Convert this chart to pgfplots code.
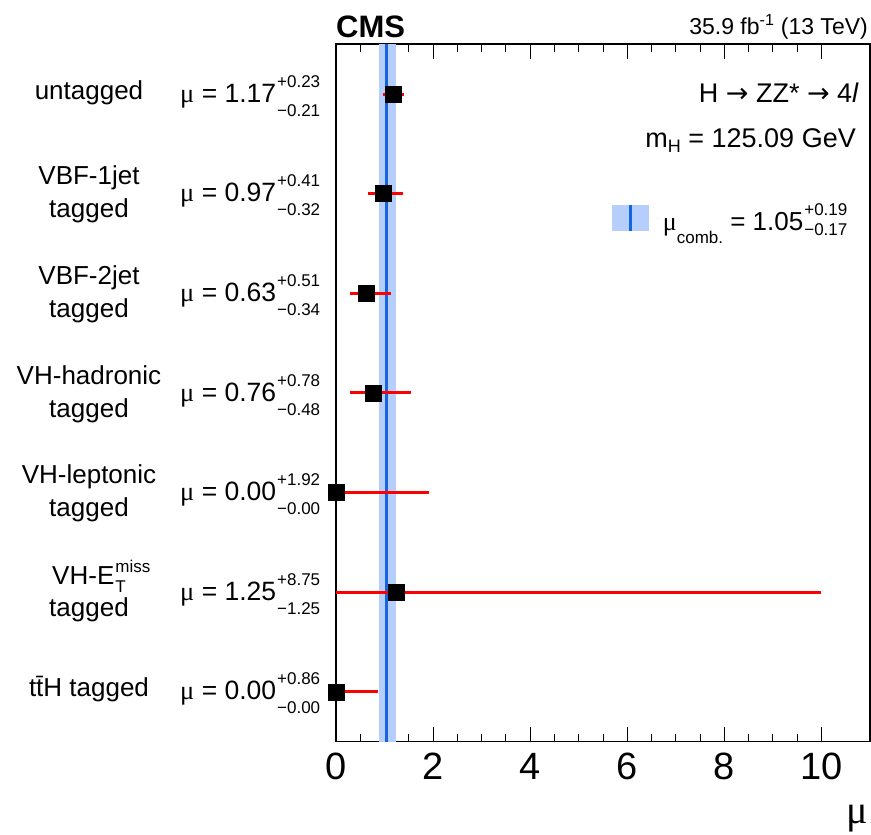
\documentclass[border=0pt]{standalone}
\usepackage{fontspec}
\setmainfont{Liberation Sans}
\newfontfamily\symfont{Liberation Serif}
\newfontfamily\arrowfont{DejaVu Sans}
\usepackage{pgfplots}
\pgfplotsset{compat=1.18}
\usepackage{pgfplotstable}

\definecolor{bandblue}{RGB}{181,206,252}
\definecolor{lineblue}{RGB}{22,100,222}

\newcommand\fs[1]{\fontsize{#1bp}{#1bp}\selectfont}
% stacked up/down uncertainties
\newcommand\ud[4]{\kern1bp\makebox[0pt][l]{\raisebox{#3bp}{\fs{17}#1}}\raisebox{-#4bp}{\fs{17}#2}}
\newcommand\muv[3]{{\symfont μ} = #1\ud{#2}{#3}{15}{14}}
\newcommand\arr{{\arrowfont →}}

% category position, signal strength, upper and lower uncertainty
\pgfplotstableread{
pos mu ep em
6.5 1.17 0.23 0.21
5.5 0.97 0.41 0.32
4.5 0.63 0.51 0.34
3.5 0.76 0.78 0.48
2.5 0.00 1.92 0.00
1.5 1.25 8.75 1.25
0.5 0.00 0.86 0.00
}\cats

\begin{document}
\begin{tikzpicture}
\useasboundingbox (0bp,0bp) rectangle (871bp,-835bp);
\begin{axis}[
  at={(336bp,-741.7bp)}, anchor=south west,
  scale only axis, width=534bp, height=697.5bp,
  xmin=0, xmax=11, ymin=0, ymax=7,
  clip=false,
  axis line style={line width=1.5bp},
  ytick=\empty,
  xtick={0,2,...,10},
  minor x tick num=3,
  tick align=inside,
  major tick length=15bp, minor tick length=8bp,
  every tick/.style={line width=1bp, black},
  xticklabel style={font=\fs{38}, inner sep=0pt, yshift=-11bp},
  /pgf/number format/assume math mode=true,
  legend style={at={(0.5163,0.7508)}, anchor=west, draw=none, fill=none,
    inner sep=0pt, font=\fs{26}},
  legend cell align=left,
]
\addplot[draw=none, fill=bandblue,
  legend image code/.code={
    \path (0bp,0bp) -- (49bp,0bp);
    \fill[bandblue] (0bp,-13.3bp) rectangle (36.6bp,13.3bp);
    \draw[lineblue, line width=3bp] (18.3bp,-13.3bp) -- (18.3bp,13.3bp);
  }]
  coordinates {(0.88,0) (1.24,0) (1.24,7) (0.88,7)} -- cycle;
\addlegendentry{{\symfont μ}\raisebox{-13bp}{\fs{17}comb.} = 1.05\ud{+0.19}{−0.17}{15}{5}}
\addplot[lineblue, line width=3bp, forget plot] coordinates {(1.05,0) (1.05,7)};
\addplot[draw=none, mark=none, forget plot,
  error bars/.cd, x dir=both, x explicit, error mark=none,
  error bar style={draw=red, line width=3bp}]
  table[x=mu, y=pos, x error plus=ep, x error minus=em] {\cats};
\addplot[only marks, mark=square*, mark size=8bp, black, forget plot]
  table[x=mu, y=pos] {\cats};
\end{axis}

% header
\node[font=\fs{31}\bfseries, anchor=base west, inner sep=0pt] at (336bp,-37bp) {CMS};
\node[font=\fs{23}, anchor=base east, inner sep=0pt] at (868bp,-34bp) {35.9 fb\textsuperscript{-1} (13 TeV)};
\node[font=\fs{27}, anchor=base east, inner sep=0pt] at (859bp,-102bp) {H \arr{} ZZ* \arr{} 4\textit{l}};
\node[font=\fs{27}, anchor=base east, inner sep=0pt] at (856bp,-147bp) {m\raisebox{-5bp}{\fs{18}H} = 125.09 GeV};

% x axis title
\node[font=\fs{40}\symfont, anchor=base east, inner sep=0pt] at (868bp,-823bp) {μ};

% category names
\begin{scope}[every node/.style={font=\fs{26}, anchor=base, inner sep=0pt}]
\node at (89bp,-99bp) {untagged};
\node at (89bp,-184.7bp) {VBF-1jet};
\node at (89bp,-217.7bp) {tagged};
\node at (89bp,-284.3bp) {VBF-2jet};
\node at (89bp,-317.3bp) {tagged};
\node at (89bp,-384bp) {VH-hadronic};
\node at (89bp,-417bp) {tagged};
\node at (89bp,-483.6bp) {VH-leptonic};
\node at (89bp,-516.6bp) {tagged};
\node at (89bp,-584.2bp) {VH-E\ud{miss}{T}{12}{8}};
\node at (89bp,-616.2bp) {tagged};
\node at (89bp,-696.9bp) {t\={t}H tagged};
\end{scope}

% fitted values
\begin{scope}[every node/.style={font=\fs{26.5}, anchor=base west, inner sep=0pt}]
\node at (180bp,-102bp) {\muv{1.17}{+0.23}{−0.21}};
\node at (180bp,-201.7bp) {\muv{0.97}{+0.41}{−0.32}};
\node at (180bp,-301.3bp) {\muv{0.63}{+0.51}{−0.34}};
\node at (180bp,-401bp) {\muv{0.76}{+0.78}{−0.48}};
\node at (180bp,-500.6bp) {\muv{0.00}{+1.92}{−0.00}};
\node at (180bp,-600.2bp) {\muv{1.25}{+8.75}{−1.25}};
\node at (180bp,-699.9bp) {\muv{0.00}{+0.86}{−0.00}};
\end{scope}
\end{tikzpicture}
\end{document}
